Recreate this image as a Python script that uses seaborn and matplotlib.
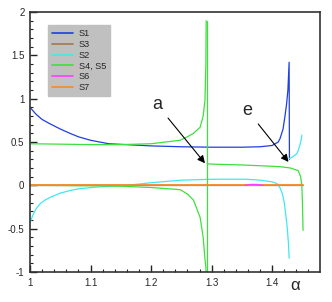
import numpy as np
import pandas as pd
import matplotlib
matplotlib.use("Agg")
import matplotlib.pyplot as plt
from matplotlib.lines import Line2D
from matplotlib.ticker import MultipleLocator, FuncFormatter
import seaborn as sns

# ---- data ----
s1_x = [1.0, 1.01, 1.02, 1.033, 1.05, 1.066, 1.08, 1.1, 1.13, 1.2, 1.25, 1.3, 1.35, 1.38, 1.4, 1.41, 1.413, 1.418, 1.421, 1.424, 1.426, 1.428, 1.4285]
s1_y = [0.9, 0.82, 0.76, 0.71, 0.65, 0.6, 0.56, 0.52, 0.48, 0.455, 0.445, 0.44, 0.44, 0.445, 0.46, 0.5, 0.54, 0.65, 0.79, 0.95, 1.1, 1.42, 0.3]

s2a_x = [1.0, 1.005, 1.01, 1.017, 1.025, 1.033, 1.05, 1.066, 1.08, 1.11, 1.16, 1.2, 1.25, 1.3, 1.358, 1.38, 1.4, 1.408, 1.413, 1.417, 1.42, 1.423, 1.425, 1.427, 1.428]
s2a_y = [-0.43, -0.34, -0.27, -0.21, -0.17, -0.14, -0.09, -0.06, -0.04, -0.02, 0.0, 0.03, 0.06, 0.07, 0.07, 0.06, 0.04, 0.02, -0.03, -0.1, -0.2, -0.37, -0.5, -0.68, -0.84]
s2b_x = [1.4285, 1.433, 1.438, 1.441, 1.443, 1.446, 1.448, 1.449]
s2b_y = [0.31, 0.325, 0.35, 0.37, 0.4, 0.47, 0.53, 0.58]

s3_x = [1.0, 1.451]
s3_y = [0.0, 0.0]

s45a_x = [1.0, 1.05, 1.1, 1.15, 1.2, 1.248, 1.26, 1.27, 1.281, 1.286, 1.289, 1.2905, 1.291]
s45a_y = [0.48, 0.475, 0.47, 0.47, 0.48, 0.52, 0.56, 0.6, 0.67, 0.8, 0.98, 1.4, 1.9]
s45b_x = [1.0, 1.1, 1.15, 1.2, 1.248, 1.26, 1.27, 1.281, 1.286, 1.289, 1.2905, 1.291]
s45b_y = [0.0, -0.005, -0.01, -0.025, -0.05, -0.1, -0.17, -0.37, -0.6, -0.85, -0.95, -1.0]
s45c_x = [1.292, 1.292]
s45c_y = [-1.0, 1.9]
s45d_x = [1.2925, 1.3, 1.35, 1.4, 1.413, 1.43, 1.443, 1.447, 1.449, 1.45, 1.451]
s45d_y = [0.25, 0.245, 0.235, 0.22, 0.215, 0.2, 0.17, 0.1, 0.0, -0.2, -0.52]

s6_x = [1.355, 1.365, 1.375, 1.385]
s6_y = [0.0, 0.01, 0.01, 0.0]

s7_x = [1.0, 1.451]
s7_y = [0.0, 0.0]

labels = ["S1", "S3", "S2", "S4, S5", "S6", "S7"]
colors = {"S1": "#1f3fe0", "S3": "#a07850", "S2": "#3fe8f0",
          "S4, S5": "#3ee03e", "S6": "#ff3cff", "S7": "#f5892a"}
widths = {"S1": 0.9, "S3": 0.9, "S2": 0.9, "S4, S5": 0.9, "S6": 1.0, "S7": 1.3}

segments = [
    ("S1", s1_x, s1_y),
    ("S3", s3_x, s3_y),
    ("S2", s2a_x, s2a_y),
    ("S2", s2b_x, s2b_y),
    ("S4, S5", s45a_x, s45a_y),
    ("S4, S5", s45b_x, s45b_y),
    ("S4, S5", s45c_x, s45c_y),
    ("S4, S5", s45d_x, s45d_y),
    ("S7", s7_x, s7_y),
    ("S6", s6_x, s6_y),
]

rows = []
for i, (name, xs, ys) in enumerate(segments):
    for k, (xv, yv) in enumerate(zip(xs, ys)):
        rows.append({"series": name, "seg": i, "order": k, "x": xv, "y": yv})
df = pd.DataFrame(rows)

sns.set_style("white")
plt.rcParams["font.family"] = ["Liberation Sans", "DejaVu Sans"]
fig = plt.figure(figsize=(3.32, 3.02), dpi=100)
ax = fig.add_axes([30/332, 1-272/302, 290/332, 260/302])

for i, (name, xs, ys) in enumerate(segments):
    sub = df[df.seg == i]
    sns.lineplot(data=sub, x="x", y="y", sort=False, estimator=None,
                 color=colors[name], lw=widths[name], ax=ax, legend=False)

ax.set_xlim(1.0, 1.479)
ax.set_ylim(-1, 2)
ax.xaxis.set_major_locator(MultipleLocator(0.1))
ax.xaxis.set_minor_locator(MultipleLocator(0.02))
ax.yaxis.set_major_locator(MultipleLocator(0.5))
ax.yaxis.set_minor_locator(MultipleLocator(0.1))
fmt = FuncFormatter(lambda v, p: "%g" % round(v, 3))
ax.xaxis.set_major_formatter(fmt)
ax.yaxis.set_major_formatter(fmt)
ax.tick_params(which="both", direction="in", top=False, right=False,
               bottom=True, left=True, labelsize=7, color="#222222", pad=4)
ax.tick_params(which="major", length=5, width=1.0)
ax.tick_params(which="minor", length=2.5, width=0.8)
for sp in ax.spines.values():
    sp.set_color("#333333")
    sp.set_linewidth(1.2)
ax.set_xlabel("")
ax.set_ylabel("")

ax.text(0.914, -0.05, "α", transform=ax.transAxes, fontsize=12,
        ha="center", va="center")

arrow = dict(arrowstyle="-|>", color="black", lw=0.8, mutation_scale=11,
             shrinkA=3, shrinkB=0)
ax.annotate("a", xy=(1.289, 0.255), xytext=(1.21, 0.93), fontsize=13,
            ha="center", va="center", arrowprops=arrow)
ax.annotate("e", xy=(1.427, 0.27), xytext=(1.359, 0.865), fontsize=13,
            ha="center", va="center", arrowprops=arrow)

handles = [Line2D([0], [0], color=colors[l], lw=1.2) for l in labels]
leg = ax.legend(handles, labels, loc="upper left",
                bbox_to_anchor=(18/290, 247/260), fontsize=6.6,
                frameon=True, fancybox=False, framealpha=1,
                facecolor="#c0c0c0", edgecolor="#c0c0c0",
                handlelength=2.3, labelspacing=0.2, handletextpad=0.6,
                borderpad=0.45, borderaxespad=0)

fig.savefig("out.png", dpi=100)
